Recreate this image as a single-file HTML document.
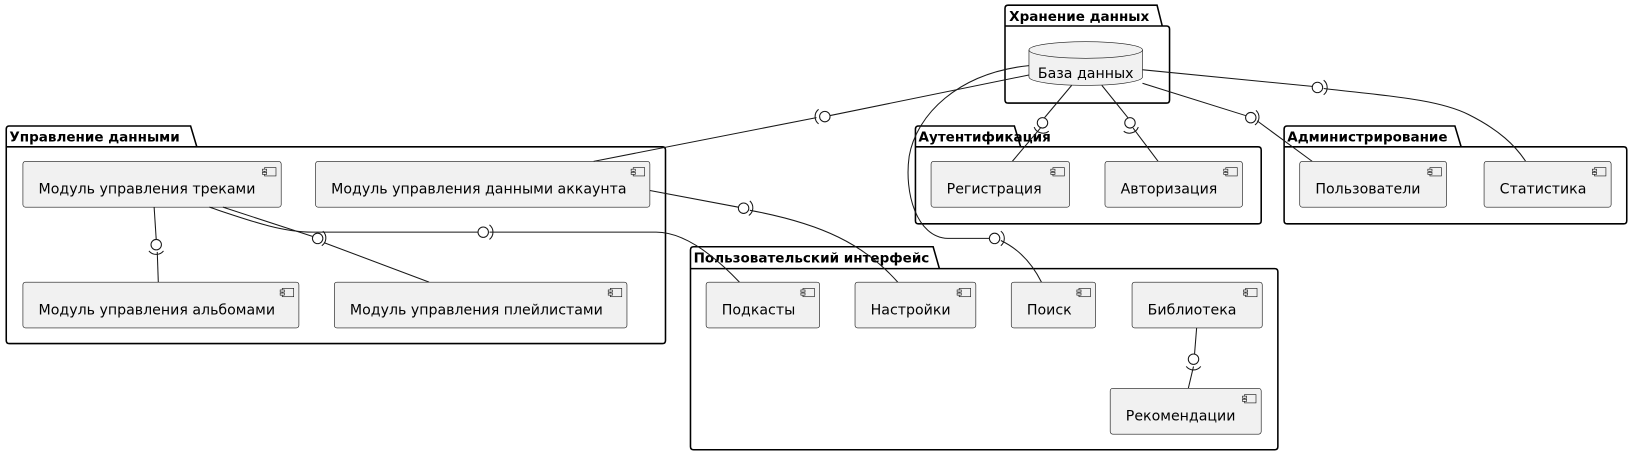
<!DOCTYPE html>
<html><head><meta charset="utf-8"><style>
html,body{margin:0;padding:0;background:#fff;}
svg{display:block;}
text{font-family:"DejaVu Sans","Liberation Sans",sans-serif;fill:#000;}
.pk{fill:none;stroke:#000;stroke-width:1.5;}
.pt{font-weight:bold;font-size:13px;}
.c{fill:#F1F1F1;stroke:#181818;stroke-width:0.6;}
.ct{font-size:13.6px;}
.l{fill:none;stroke:#181818;stroke-width:1;}
.ci{fill:#fff;stroke:#181818;stroke-width:1;}
</style></head><body>
<svg width="1633" height="456" viewBox="0 0 1568 438" preserveAspectRatio="none" xmlns="http://www.w3.org/2000/svg">
<defs>
<g id="ic"><rect x="0" y="0" width="11" height="8" fill="#F1F1F1" stroke="#181818" stroke-width="0.6"/><rect x="-2" y="1.5" width="4" height="2" fill="#F1F1F1" stroke="#181818" stroke-width="0.6"/><rect x="-2" y="4.5" width="4" height="2" fill="#F1F1F1" stroke="#181818" stroke-width="0.6"/></g>
</defs>

<path class="pk" d="M965,25 V8 Q965,5 968,5 H1111 L1116,25 H1120 Q1123,25 1123,28 V96 Q1123,99 1120,99 H968 Q965,99 965,96 Z M965,25 H1116"/>
<text class="pt" x="969" y="20">Хранение данных</text>

<path class="pk" d="M6,141 V124 Q6,121 9,121 H183 L189,141 H636 Q639,141 639,144 V327 Q639,330 636,330 H9 Q6,330 6,327 Z M6,141 H189"/>
<text class="pt" x="9" y="136">Управление данными</text>

<path class="pk" d="M879,141 V124 Q879,121 882,121 H974 L980,141 H1208 Q1211,141 1211,144 V212 Q1211,215 1208,215 H882 Q879,215 879,212 Z M879,141 H980"/>
<text class="pt" x="882" y="136">Аутентификация</text>

<path class="pk" d="M1233,141 V124 Q1233,121 1236,121 H1397 L1403,141 H1559 Q1562,141 1562,144 V212 Q1562,215 1559,215 H1236 Q1233,215 1233,212 Z M1233,141 H1403"/>
<text class="pt" x="1236" y="136">Администрирование</text>

<path class="pk" d="M663,258 V240 Q663,237 666,237 H896 L902,258 H1224 Q1227,258 1227,261 V429 Q1227,432 1224,432 H666 Q663,432 663,429 Z M663,258 H902"/>
<text class="pt" x="666" y="252">Пользовательский интерфейс</text>

<path class="c" d="M988,48 V74 A54.5,8 0 0 0 1097,74 V48 A54.5,8 0 0 0 988,48 Z"/>
<path fill="none" stroke="#181818" stroke-width="0.6" d="M988,48 A54.5,8 0 0 0 1097,48"/>
<text class="ct" x="1042.5" y="75" text-anchor="middle">База данных</text>

<g>
<rect class="c" x="22" y="155" width="248" height="44" rx="2.5"/><use href="#ic" x="254" y="161"/><text class="ct" x="37" y="186">Модуль управления треками</text>
<rect class="c" x="303" y="155" width="321" height="44" rx="2.5"/><use href="#ic" x="608" y="161"/><text class="ct" x="318" y="186">Модуль управления данными аккаунта</text>
<rect class="c" x="22" y="271" width="265" height="44" rx="2.5"/><use href="#ic" x="271" y="277"/><text class="ct" x="37" y="302">Модуль управления альбомами</text>
<rect class="c" x="321" y="271" width="281" height="44" rx="2.5"/><use href="#ic" x="586" y="277"/><text class="ct" x="336" y="302">Модуль управления плейлистами</text>
<rect class="c" x="894" y="155" width="133" height="44" rx="2.5"/><use href="#ic" x="1011" y="161"/><text class="ct" x="909" y="186">Регистрация</text>
<rect class="c" x="1061" y="155" width="132" height="44" rx="2.5"/><use href="#ic" x="1177" y="161"/><text class="ct" x="1076" y="186">Авторизация</text>
<rect class="c" x="1248" y="155" width="141" height="44" rx="2.5"/><use href="#ic" x="1373" y="161"/><text class="ct" x="1263" y="186">Пользователи</text>
<rect class="c" x="1425" y="155" width="122" height="44" rx="2.5"/><use href="#ic" x="1531" y="161"/><text class="ct" x="1440" y="186">Статистика</text>
<rect class="c" x="678" y="271" width="109" height="44" rx="2.5"/><use href="#ic" x="771" y="277"/><text class="ct" x="693" y="302">Подкасты</text>
<rect class="c" x="821" y="271" width="116" height="44" rx="2.5"/><use href="#ic" x="921" y="277"/><text class="ct" x="836" y="302">Настройки</text>
<rect class="c" x="971" y="271" width="81" height="44" rx="2.5"/><use href="#ic" x="1036" y="277"/><text class="ct" x="986" y="302">Поиск</text>
<rect class="c" x="1087" y="271" width="125" height="44" rx="2.5"/><use href="#ic" x="1196" y="277"/><text class="ct" x="1102" y="302">Библиотека</text>
<rect class="c" x="1066" y="373" width="145" height="44" rx="2.5"/><use href="#ic" x="1195" y="379"/><text class="ct" x="1081" y="404">Рекомендации</text>
</g>

<path class="l" d="M988,72 L797,111"/><circle class="ci" cx="792" cy="112" r="5"/>
<path class="l" d="M786,105 A9,9 0 0 0 786,119"/><path class="l" d="M784,113 L570,155"/>
<path class="l" d="M1029,82 L1003,113"/><circle class="ci" cx="1001" cy="118" r="5"/>
<path class="l" d="M993,122 A9,9 0 0 0 1007,126"/><path class="l" d="M999,123 L972,155"/>
<path class="l" d="M1058,82 L1083,113"/><circle class="ci" cx="1085" cy="118" r="5"/>
<path class="l" d="M1079,126 A9,9 0 0 0 1093,122"/><path class="l" d="M1088,123 L1112,155"/>
<path class="l" d="M1097,80 L1196,111"/><circle class="ci" cx="1201" cy="113" r="5"/>
<path class="l" d="M1206,106 A9,9 0 0 1 1205,120"/><path class="l" d="M1207,116 L1260,155"/>
<path class="l" d="M1097,67 L1260,83"/><circle class="ci" cx="1265" cy="84" r="5"/>
<path class="l" d="M1271,77 A9,9 0 0 1 1271,91"/><path class="l" d="M1271,85 C1330,92 1380,95 1410,110 C1440,125 1455,140 1465,155"/>
<path class="l" d="M988,63 C920,70 880,110 873,150 C868,185 880,228 910,229 L950,229"/><circle class="ci" cx="955" cy="229" r="5"/>
<path class="l" d="M961,222 A9,9 0 0 1 961,236"/><path class="l" d="M961,231 C980,240 992,255 1000,271"/>
<!-- Треки -> альбомы -->
<path class="l" d="M148,199 L150,230"/><circle class="ci" cx="150" cy="235" r="5"/>
<path class="l" d="M143,241 A9,9 0 0 0 157,241"/><path class="l" d="M151,242 L152,271"/>
<!-- Треки -> плейлисты -->
<path class="l" d="M214,199 L300,227"/><circle class="ci" cx="305" cy="229" r="5"/>
<path class="l" d="M310,222 A9,9 0 0 1 309,236"/><path class="l" d="M311,233 L412,271"/>
<!-- Треки -> Подкасты -->
<path class="l" d="M201,199 C240,212 270,223 300,223 L459,223"/><circle class="ci" cx="464" cy="223" r="5"/>
<path class="l" d="M470,216 A9,9 0 0 1 470,230"/><path class="l" d="M470,223 L630,223 C660,223 690,250 710,271"/>
<path class="l" d="M624,183 L709,199"/><circle class="ci" cx="714" cy="200" r="5"/>
<path class="l" d="M720,193 A9,9 0 0 1 719,207"/><path class="l" d="M720,202 C790,215 830,235 862,271"/>
<path class="l" d="M1149,315 L1147,340"/><circle class="ci" cx="1146" cy="345" r="5"/>
<path class="l" d="M1139,352 A9,9 0 0 0 1153,352"/><path class="l" d="M1146,352 L1141,373"/>
</svg>
</body></html>
